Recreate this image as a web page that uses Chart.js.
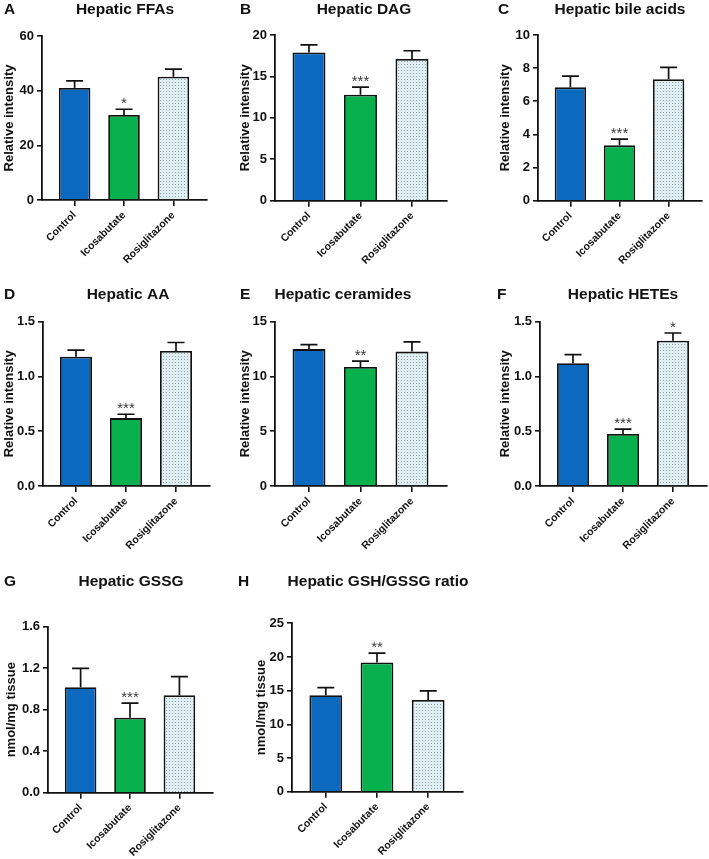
<!DOCTYPE html>
<html>
<head>
<meta charset="utf-8">
<script src="https://cdn.jsdelivr.net/npm/chart.js@4.4.0/dist/chart.umd.min.js"></script>
<style>
  html, body { margin: 0; padding: 0; background: #fff; }
  #wrap { position: relative; width: 709px; height: 859px; overflow: hidden; }
  #wrap canvas { position: absolute; }
</style>
</head>
<body>
<div id="wrap"></div>
<script>
// Groups on every x axis
const groups = ['Control', 'Icosabutate', 'Rosiglitazone'];

// Panel text
const panelLetters = ['A', 'B', 'C', 'D', 'E', 'F', 'G', 'H'];
const panelTitles = ['Hepatic FFAs', 'Hepatic DAG', 'Hepatic bile acids', 'Hepatic AA',
    'Hepatic ceramides', 'Hepatic HETEs', 'Hepatic GSSG', 'Hepatic GSH/GSSG ratio'];
const yTitles = ['Relative intensity', 'Relative intensity', 'Relative intensity', 'Relative intensity',
    'Relative intensity', 'Relative intensity', 'nmol/mg tissue', 'nmol/mg tissue'];

// Means and error (SEM) per panel
const ffaMean = [41.0, 31.1, 45.1];
const ffaErr = [2.6, 2.1, 2.8];
const dagMean = [17.9, 12.8, 17.1];
const dagErr = [0.9, 0.9, 1.0];
const bileMean = [6.84, 3.34, 7.33];
const bileErr = [0.68, 0.38, 0.72];
const aaMean = [1.18, 0.62, 1.233];
const aaErr = [0.06, 0.035, 0.077];
const ceramideMean = [12.5, 10.87, 12.27];
const ceramideErr = [0.4, 0.53, 0.88];
const heteMean = [1.12, 0.475, 1.327];
const heteErr = [0.08, 0.045, 0.07];
const gssgMean = [1.016, 0.723, 0.94];
const gssgErr = [0.183, 0.14, 0.178];
const ratioMean = [14.32, 19.17, 13.62];
const ratioErr = [1.13, 1.39, 1.34];

// Significance marks
const ffaStars = ['', '*', ''];
const dagStars = ['', '***', ''];
const bileStars = ['', '***', ''];
const aaStars = ['', '***', ''];
const ceramideStars = ['', '**', ''];
const heteStars = ['', '***', '*'];
const gssgStars = ['', '***', ''];
const ratioStars = ['', '**', ''];

// Y axis ranges
const yMax = [60, 20, 10, 1.5, 15, 1.5, 1.6, 25];
const yStep = [20, 5, 2, 0.5, 5, 0.5, 0.4, 5];
const yDecimals = [0, 0, 0, 1, 0, 1, 1, 0];

const panelData = [
    [ffaMean, ffaErr, ffaStars],
    [dagMean, dagErr, dagStars],
    [bileMean, bileErr, bileStars],
    [aaMean, aaErr, aaStars],
    [ceramideMean, ceramideErr, ceramideStars],
    [heteMean, heteErr, heteStars],
    [gssgMean, gssgErr, gssgStars],
    [ratioMean, ratioErr, ratioStars]
];

// Panel placement (canvas box, plot box, title spots)
const layout = [
    { l: 0,   t: 0,   w: 235, h: 275, x0: 42,  x1: 207, y0: 36,  y1: 200, yt: 9,   tx: 125, ty: 10,  lx: 4 },
    { l: 235, t: 0,   w: 235, h: 275, x0: 275, x1: 447, y0: 35,  y1: 200.7, yt: 245, tx: 364, ty: 10, lx: 240 },
    { l: 470, t: 0,   w: 239, h: 275, x0: 538, x1: 702, y0: 35,  y1: 200.7, yt: 505, tx: 620, ty: 10, lx: 498 },
    { l: 0,   t: 280, w: 235, h: 282, x0: 43,  x1: 210, y0: 321.7, y1: 486, yt: 9,  tx: 128, ty: 295, lx: 4 },
    { l: 235, t: 280, w: 235, h: 282, x0: 275, x1: 447, y0: 321.7, y1: 486, yt: 245, tx: 343, ty: 295, lx: 240 },
    { l: 470, t: 280, w: 239, h: 282, x0: 540, x1: 707, y0: 321.7, y1: 486, yt: 505, tx: 623, ty: 295, lx: 497 },
    { l: 0,   t: 568, w: 235, h: 291, x0: 48,  x1: 213, y0: 626.7, y1: 792.7, yt: 11, tx: 131, ty: 582, lx: 4 },
    { l: 235, t: 568, w: 250, h: 291, x0: 292, x1: 463, y0: 623.3, y1: 791.7, yt: 261, tx: 378, ty: 582, lx: 238 }
];

const FONT = '"Liberation Sans", Arial, Helvetica, sans-serif';
const INK = '#111';
const blue = '#0b69c0';
const green = '#08b04e';

// Dotted fill for Rosiglitazone
function dotPattern() {
    const c = document.createElement('canvas');
    c.width = 3;
    c.height = 3;
    const g = c.getContext('2d');
    g.fillStyle = '#e1eff3';
    g.fillRect(0, 0, 3, 3);
    g.fillStyle = '#86a6b1';
    g.fillRect(1, 1, 1, 1);
    return g.createPattern(c, 'repeat');
}

// Error bars (upper only) + significance stars
const errorBars = {
    id: 'errorBars',
    afterDatasetsDraw(chart) {
        const ds = chart.data.datasets[0];
        const meta = chart.getDatasetMeta(0);
        const yScale = chart.scales.y;
        const ctx = chart.ctx;
        ctx.save();
        ctx.strokeStyle = INK;
        ctx.lineWidth = 1.7;
        ctx.fillStyle = '#3a3a3a';
        ctx.font = '15px ' + FONT;
        ctx.textAlign = 'center';
        ctx.textBaseline = 'alphabetic';
        meta.data.forEach((bar, i) => {
            const top = yScale.getPixelForValue(ds.data[i].y + ds.errors[i]);
            ctx.beginPath();
            ctx.moveTo(bar.x, bar.y);
            ctx.lineTo(bar.x, top);
            ctx.moveTo(bar.x - 8.5, top);
            ctx.lineTo(bar.x + 8.5, top);
            ctx.stroke();
            if (ds.stars[i]) ctx.fillText(ds.stars[i], bar.x, top - 1);
        });
        ctx.restore();
    }
};

// Panel letter and title
const header = {
    id: 'header',
    afterDraw(chart, args, opts) {
        const ctx = chart.ctx;
        ctx.save();
        ctx.fillStyle = INK;
        ctx.font = 'bold 15.5px ' + FONT;
        ctx.textBaseline = 'middle';
        ctx.textAlign = 'left';
        ctx.fillText(opts.letter, opts.lx, opts.ty);
        ctx.textAlign = 'center';
        ctx.fillText(opts.title, opts.tx, opts.ty);
        ctx.restore();
    }
};

const wrap = document.getElementById('wrap');
const rosiFill = dotPattern();

panelData.forEach(([mean, err, stars], k) => {
    const p = layout[k];
    const canvas = document.createElement('canvas');
    canvas.width = p.w;
    canvas.height = p.h;
    canvas.style.left = p.l + 'px';
    canvas.style.top = p.t + 'px';
    wrap.appendChild(canvas);

    const padLeft = p.yt - 7.8 - p.l;

    new Chart(canvas, {
        type: 'bar',
        data: {
            datasets: [{
                data: mean.map((v, i) => ({ x: i, y: v })),
                errors: err,
                stars: stars,
                backgroundColor: [blue, green, rosiFill],
                borderColor: INK,
                borderWidth: 1.8,
                borderSkipped: 'bottom',
                barPercentage: 0.64,
                categoryPercentage: 1
            }]
        },
        options: {
            responsive: false,
            animation: false,
            events: [],
            layout: { padding: { left: padLeft, top: p.y0 - p.t, right: p.l + p.w - p.x1, bottom: 0 } },
            plugins: {
                legend: { display: false },
                tooltip: { enabled: false },
                header: {
                    letter: panelLetters[k], title: panelTitles[k],
                    lx: p.lx - p.l, tx: p.tx - p.l, ty: p.ty - p.t
                }
            },
            scales: {
                x: {
                    type: 'linear',
                    min: -0.66,
                    max: 2.68,
                    offset: false,
                    bounds: 'data',
                    afterBuildTicks: s => { s.ticks = groups.map((g, i) => ({ value: i })); },
                    afterFit: s => { s.height = p.t + p.h - p.y1; },
                    ticks: {
                        autoSkip: false,
                        maxRotation: 45,
                        minRotation: 45,
                        padding: 3,
                        color: INK,
                        font: { family: FONT, size: 10.5, weight: 'bold' },
                        callback: v => groups[v]
                    },
                    grid: { offset: false, drawOnChartArea: false, drawTicks: true, tickLength: 6, color: INK, lineWidth: 1.6 },
                    border: { display: true, color: INK, width: 1.8 }
                },
                y: {
                    min: 0,
                    max: yMax[k],
                    afterFit: s => { s.width = p.x0 - p.l - padLeft; },
                    ticks: {
                        stepSize: yStep[k],
                        padding: 3,
                        color: INK,
                        font: { family: FONT, size: 13, weight: 'bold' },
                        callback: v => v.toFixed(yDecimals[k])
                    },
                    grid: { drawOnChartArea: false, drawTicks: true, tickLength: 5, color: INK, lineWidth: 1.6 },
                    border: { display: true, color: INK, width: 1.8 },
                    title: {
                        display: true,
                        text: yTitles[k],
                        color: INK,
                        padding: 0,
                        font: { family: FONT, size: 13, weight: 'bold' }
                    }
                }
            }
        },
        plugins: [errorBars, header]
    });
});
</script>
</body>
</html>
